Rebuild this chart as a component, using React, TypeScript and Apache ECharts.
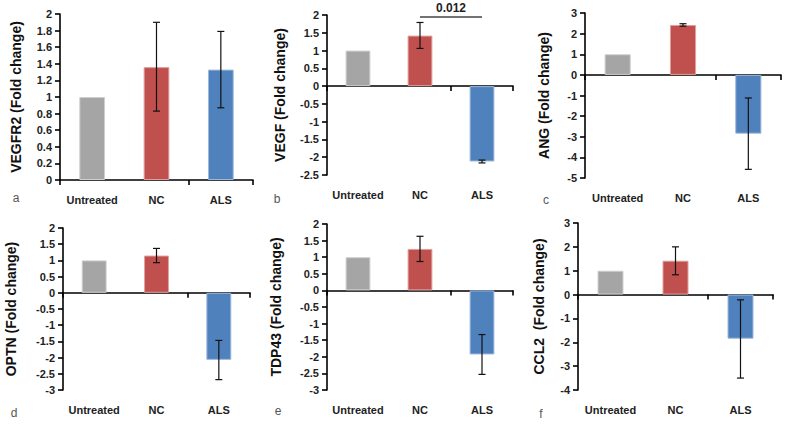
import React, { useEffect, useRef } from "react";
import * as echarts from "echarts";

const categories = ["Untreated", "NC", "ALS"];
const panelLetters = ["a", "b", "c", "d", "e", "f"];
const axisTitles = [
  "VEGFR2 (Fold change)",
  "VEGF (Fold change)",
  "ANG (Fold change)",
  "OPTN (Fold change)",
  "TDP43 (Fold change)",
  "CCL2  (Fold change)",
];

// bar values per panel (Untreated, NC, ALS)
const vegfr2Values = [1, 1.36, 1.33];
const vegfValues = [1, 1.42, -2.12];
const angValues = [1, 2.42, -2.85];
const optnValues = [1, 1.15, -2.07];
const tdp43Values = [1, 1.25, -1.93];
const ccl2Values = [1, 1.42, -1.85];

// error bar lower / upper ends
const vegfr2Low = [null, 0.83, 0.87];
const vegfr2High = [null, 1.9, 1.79];
const vegfLow = [null, 1.06, -2.16];
const vegfHigh = [null, 1.79, -2.08];
const angLow = [null, 2.36, -4.58];
const angHigh = [null, 2.48, -1.12];
const optnLow = [null, 0.93, -2.68];
const optnHigh = [null, 1.37, -1.47];
const tdp43Low = [null, 0.87, -2.53];
const tdp43High = [null, 1.63, -1.33];
const ccl2Low = [null, 0.83, -3.5];
const ccl2High = [null, 2.0, -0.22];

// y axis ranges
const yMins = [0, -2.5, -5, -3, -3, -4];
const yMaxs = [2, 2, 3, 2, 2, 3];
const yIntervals = [0.2, 0.5, 1, 0.5, 0.5, 1];

// significance bracket (panel b)
const sigPanel = 1;
const sigFrom = "NC";
const sigTo = "ALS";
const sigLevel = 1.94;
const sigLabel = "0.012";

const barColors = ["#a5a5a5", "#c0504d", "#4f81bd"];
const barBorders = ["#cfcfcf", "#e0a09e", "#9db8dc"];

const values = [vegfr2Values, vegfValues, angValues, optnValues, tdp43Values, ccl2Values];
const lows = [vegfr2Low, vegfLow, angLow, optnLow, tdp43Low, ccl2Low];
const highs = [vegfr2High, vegfHigh, angHigh, optnHigh, tdp43High, ccl2High];

// layout
const grids = [
  { left: 60, top: 14, width: 193, height: 166 },
  { left: 327, top: 15, width: 186, height: 160 },
  { left: 585, top: 13, width: 196, height: 165 },
  { left: 63, top: 228, width: 187, height: 162 },
  { left: 327, top: 224, width: 186, height: 166 },
  { left: 578, top: 223, width: 195, height: 167 },
];
const nameGaps = [37, 40, 34, 45, 44, 32];
const letterPos = [
  [16, 198],
  [277, 199],
  [546, 200],
  [14, 413],
  [278, 411],
  [541, 414],
];

const FONT = "'Liberation Sans', Arial, sans-serif";

export default function App() {
  const ref = useRef<HTMLDivElement>(null);
  useEffect(() => {
    if (!ref.current) return;
    const chart = echarts.init(ref.current, undefined, { renderer: "svg" });
    const xAxes: any[] = [];
    const yAxes: any[] = [];
    const series: any[] = [];
    grids.forEach((g, i) => {
      xAxes.push({
        type: "category",
        gridIndex: i,
        data: categories,
        axisLine: { onZero: true, lineStyle: { color: "#000", width: 1.6 } },
        axisTick: { show: true, length: 5, lineStyle: { color: "#000", width: 1.6 } },
        axisLabel: { show: false },
        splitLine: { show: false },
      });
      xAxes.push({
        type: "category",
        gridIndex: i,
        data: categories,
        position: "bottom",
        axisLine: { show: false, onZero: false },
        axisTick: { show: false },
        axisLabel: {
          show: true,
          interval: 0,
          hideOverlap: false,
          margin: 14,
          color: "#222",
          fontWeight: "bold",
          fontSize: 11,
          fontFamily: FONT,
        },
        splitLine: { show: false },
      });
      yAxes.push({
        type: "value",
        gridIndex: i,
        min: yMins[i],
        max: yMaxs[i],
        interval: yIntervals[i],
        name: axisTitles[i],
        nameLocation: "middle",
        nameGap: nameGaps[i],
        nameTextStyle: { color: "#111", fontWeight: "bold", fontSize: 14, fontFamily: FONT },
        axisLine: { show: true, lineStyle: { color: "#000", width: 1.6 } },
        axisTick: { show: true, length: 5, lineStyle: { color: "#000", width: 1.6 } },
        axisLabel: { margin: 8, color: "#222", fontWeight: "bold", fontSize: 11, fontFamily: FONT },
        splitLine: { show: false },
      });
      const barSeries: any = {
        type: "bar",
        xAxisIndex: 2 * i,
        yAxisIndex: i,
        barWidth: "40%",
        data: values[i].map((v, k) => ({
          value: v,
          itemStyle: { color: barColors[k], borderColor: barBorders[k], borderWidth: 1 },
        })),
      };
      if (i === sigPanel) {
        barSeries.markLine = {
          silent: true,
          symbol: ["none", "none"],
          lineStyle: { color: "#444", width: 1.5, type: "solid" },
          label: {
            show: true,
            position: "insideMiddleTop",
            distance: 3,
            formatter: sigLabel,
            color: "#222",
            fontWeight: "bold",
            fontSize: 12,
            fontFamily: FONT,
          },
          data: [
            [
              { coord: [categories.indexOf(sigFrom), sigLevel] },
              { coord: [categories.indexOf(sigTo), sigLevel] },
            ],
          ],
        };
      }
      series.push(barSeries);
      const errData: any[] = [];
      lows[i].forEach((lo, k) => {
        const hi = highs[i][k];
        if (lo !== null && hi !== null) errData.push([k, lo, hi]);
      });
      series.push({
        type: "custom",
        xAxisIndex: 2 * i,
        yAxisIndex: i,
        z: 10,
        silent: true,
        encode: { x: 0, y: [1, 2] },
        data: errData,
        renderItem: (params: any, api: any) => {
          const x = api.value(0);
          const pLo = api.coord([x, api.value(1)]);
          const pHi = api.coord([x, api.value(2)]);
          const cap = 3.5;
          const st = { stroke: "#111", lineWidth: 1.2 };
          return {
            type: "group",
            children: [
              { type: "line", shape: { x1: pLo[0], y1: pLo[1], x2: pHi[0], y2: pHi[1] }, style: st },
              { type: "line", shape: { x1: pLo[0] - cap, y1: pLo[1], x2: pLo[0] + cap, y2: pLo[1] }, style: st },
              { type: "line", shape: { x1: pHi[0] - cap, y1: pHi[1], x2: pHi[0] + cap, y2: pHi[1] }, style: st },
            ],
          };
        },
      });
    });
    chart.setOption({
      animation: false,
      backgroundColor: "#fff",
      grid: grids.map((g) => ({ ...g, containLabel: false })),
      xAxis: xAxes,
      yAxis: yAxes,
      series,
      graphic: panelLetters.map((l, i) => ({
        type: "text",
        x: letterPos[i][0],
        y: letterPos[i][1],
        style: {
          text: l,
          fill: "#555",
          font: `12px ${FONT}`,
          textAlign: "center",
          textVerticalAlign: "middle",
        },
      })),
    });
    return () => chart.dispose();
  }, []);
  return (
    <div
      ref={ref}
      style={{ position: "fixed", left: 0, top: 0, width: 789, height: 427, background: "#fff" }}
    />
  );
}
